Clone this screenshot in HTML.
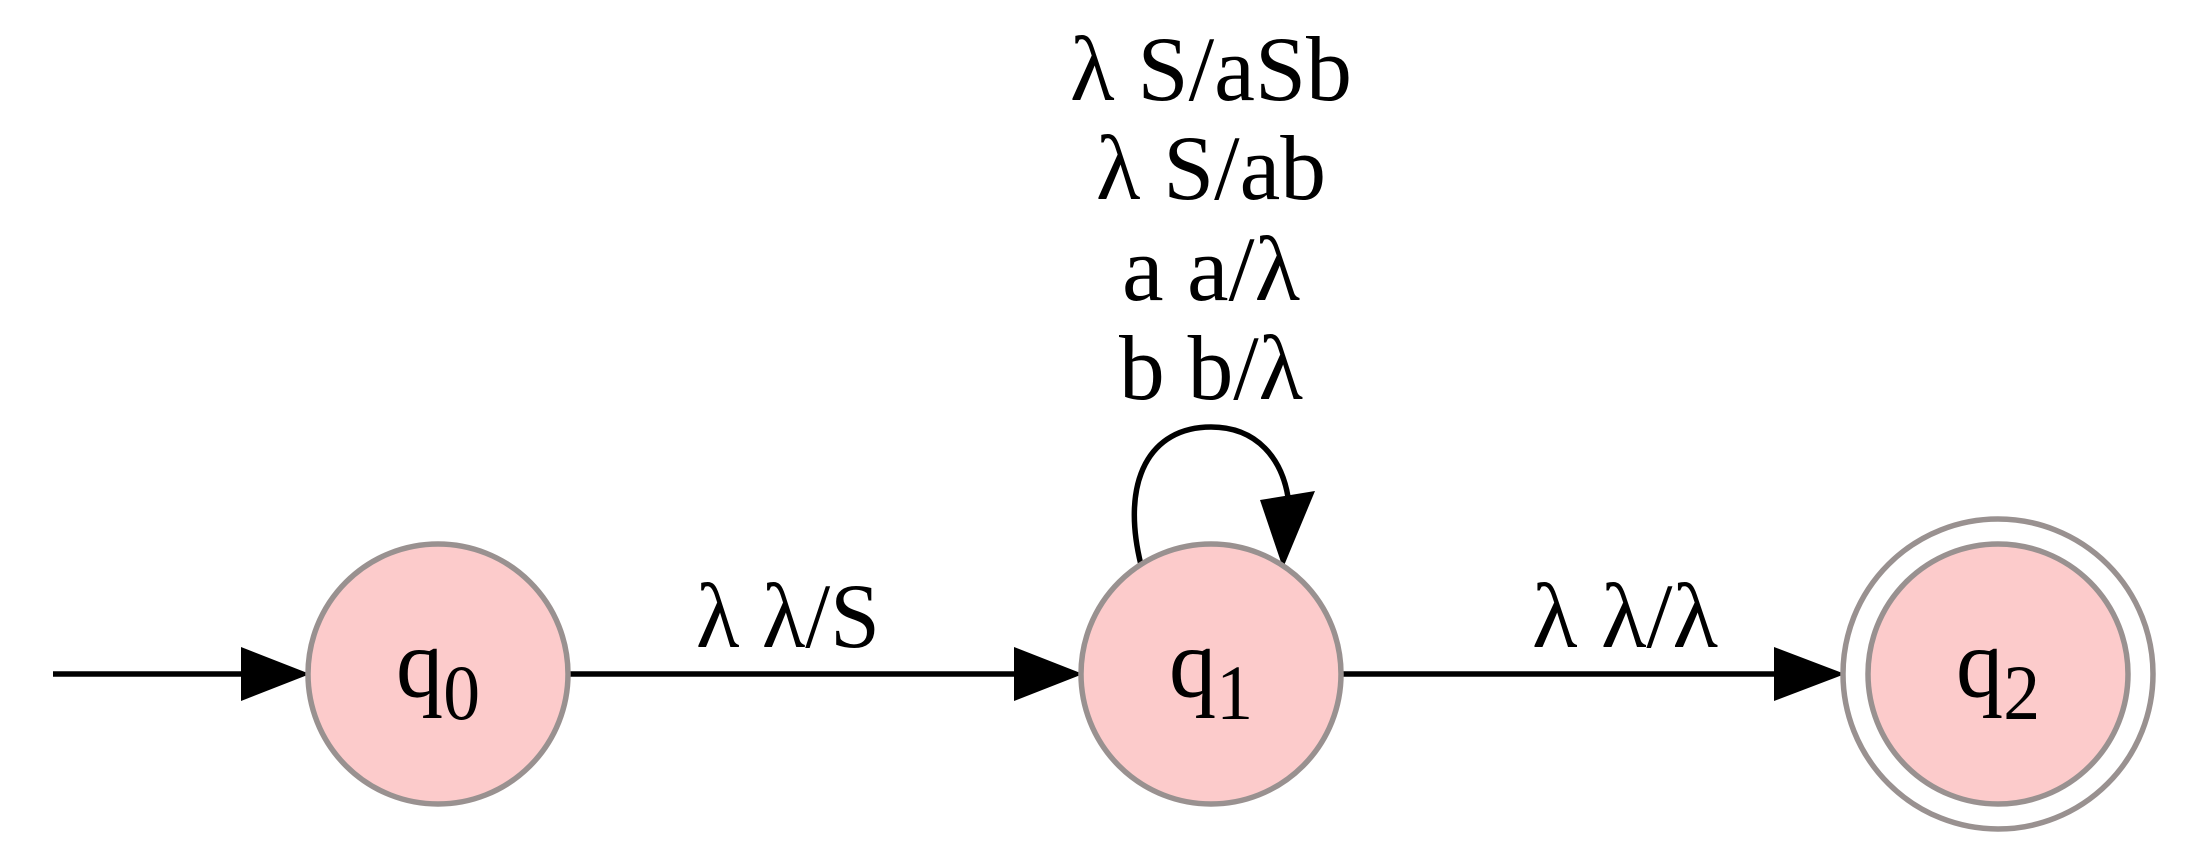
<!DOCTYPE html>
<html><head><meta charset="utf-8"><style>
html,body{margin:0;padding:0;background:#fff;}
svg{display:block;}
text{font-family:"Liberation Serif",serif;fill:#000;}
</style></head><body>
<svg width="2187" height="853" viewBox="0 0 2187 853">
<g>
<line x1="53" y1="674" x2="245" y2="674" stroke="#000" stroke-width="5.5"/>
<polygon points="241,647 310,674 241,701" fill="#000"/>
</g>
<g>
<line x1="569" y1="674" x2="1018" y2="674" stroke="#000" stroke-width="5.5"/>
<polygon points="1014,647 1083,674 1014,701" fill="#000"/>
<text x="788" y="647" font-size="92" text-anchor="middle" textLength="184" lengthAdjust="spacingAndGlyphs">λ λ/S</text>
</g>
<g>
<line x1="1342" y1="674" x2="1778" y2="674" stroke="#000" stroke-width="5.5"/>
<polygon points="1774,647 1845,674 1774,701" fill="#000"/>
<text x="1625" y="647" font-size="92" text-anchor="middle" textLength="186" lengthAdjust="spacingAndGlyphs">λ λ/λ</text>
</g>
<g>
<path d="M1141,565 C1120,480 1150,427 1211,427 C1258,427 1282,460 1288,497" fill="none" stroke="#000" stroke-width="5.5"/>
<polygon points="1260,500 1315,491 1283,568" fill="#000"/>
<text x="1211" y="100" font-size="92" text-anchor="middle" textLength="282" lengthAdjust="spacingAndGlyphs">λ S/aSb</text>
<text x="1211" y="199" font-size="92" text-anchor="middle" textLength="230" lengthAdjust="spacingAndGlyphs">λ S/ab</text>
<text x="1211" y="300" font-size="92" text-anchor="middle" textLength="178" lengthAdjust="spacingAndGlyphs">a a/λ</text>
<text x="1211" y="399" font-size="92" text-anchor="middle" textLength="184" lengthAdjust="spacingAndGlyphs">b b/λ</text>
</g>
<g>
<circle cx="438" cy="674" r="130" fill="#fccbcb" stroke="#999190" stroke-width="5.5"/>
<text x="438" y="697" font-size="100" text-anchor="middle" textLength="84" lengthAdjust="spacingAndGlyphs">q<tspan font-size="78" dy="22">0</tspan></text>
</g>
<g>
<circle cx="1211" cy="674" r="130" fill="#fccbcb" stroke="#999190" stroke-width="5.5"/>
<text x="1211" y="697" font-size="100" text-anchor="middle" textLength="84" lengthAdjust="spacingAndGlyphs">q<tspan font-size="78" dy="22">1</tspan></text>
</g>
<g>
<circle cx="1998" cy="674" r="155" fill="none" stroke="#999190" stroke-width="5.5"/>
<circle cx="1998" cy="674" r="130" fill="#fccbcb" stroke="#999190" stroke-width="5.5"/>
<text x="1998" y="697" font-size="100" text-anchor="middle" textLength="84" lengthAdjust="spacingAndGlyphs">q<tspan font-size="78" dy="22">2</tspan></text>
</g>
</svg>
</body></html>
